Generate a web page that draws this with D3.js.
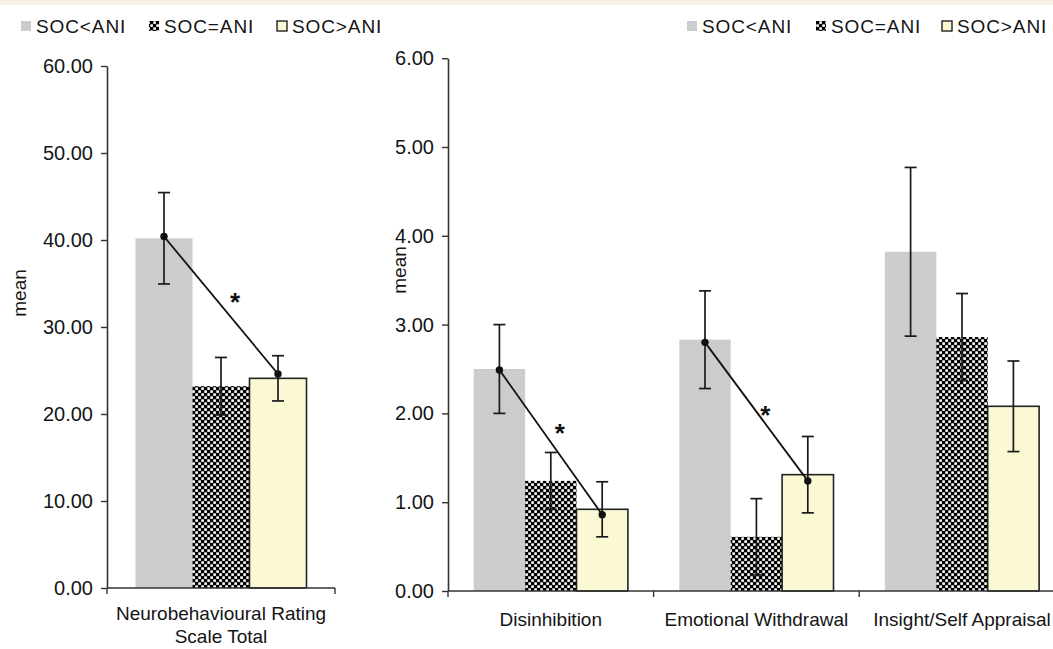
<!DOCTYPE html>
<html><head><meta charset="utf-8">
<script src="https://cdn.jsdelivr.net/npm/d3@7"></script>
<style>
html,body{margin:0;padding:0;background:#fff;}
svg{display:block;font-family:"Liberation Sans",Arial,sans-serif;}
</style></head>
<body>
<svg id="chart" width="1053" height="649"></svg>
<script>
// ---- data ----
const series = ["SOC<ANI", "SOC=ANI", "SOC>ANI"];
const leftCategories = ["Neurobehavioural Rating\nScale Total"];
const leftMeans = [[40.2, 23.2, 24.1]];
const leftErrors = [[5.25, 3.3, 2.6]];
const leftTicks = [0, 10, 20, 30, 40, 50, 60];
const leftSigLine = [{cat: 0, from: 40.4, to: 24.6, star: 33.4}];

const rightCategories = ["Disinhibition", "Emotional Withdrawal", "Insight/Self Appraisal"];
const rightMeans = [[2.50, 1.24, 0.92], [2.83, 0.61, 1.31], [3.82, 2.86, 2.08]];
const rightErrors = [[0.50, 0.32, 0.31], [0.55, 0.43, 0.43], [0.95, 0.49, 0.51]];
const rightTicks = [0, 1, 2, 3, 4, 5, 6];
const rightSigLines = [{cat: 0, from: 2.49, to: 0.86, star: 1.84}, {cat: 1, from: 2.80, to: 1.24, star: 2.04}];

// ---- styles ----
const fills = ["#cccccc", "url(#checker)", "#fbf8d4"];
const strokes = ["none", "none", "#222"];
const axisColor = "#333";
const textColor = "#141414";
const fontFam = "Liberation Sans, Arial, sans-serif";

const svg = d3.select("#chart");
svg.append("rect").attr("x", 0).attr("y", 0).attr("width", 1053).attr("height", 5).attr("fill", "#f5f1e3");

const defs = svg.append("defs");
const pat = defs.append("pattern").attr("id", "checker").attr("patternUnits", "userSpaceOnUse")
  .attr("width", 6).attr("height", 6);
pat.append("rect").attr("width", 6).attr("height", 6).attr("fill", "#000");
pat.append("rect").attr("x", 0.3).attr("y", 0.3).attr("width", 2.6).attr("height", 2.6).attr("fill", "#fff");
pat.append("rect").attr("x", 3.3).attr("y", 3.3).attr("width", 2.6).attr("height", 2.6).attr("fill", "#fff");

function drawPanel(opts) {
  const g = svg.append("g");
  const y = d3.scaleLinear().domain(opts.domain).range(opts.yRange);
  const x = d3.scaleBand().domain(d3.range(opts.categories.length)).range(opts.xRange).padding(0);
  const bw = x.bandwidth();
  const xs = d3.scaleBand().domain(d3.range(series.length)).range([bw * 0.125, bw * 0.875]).padding(0);

  // bars
  opts.means.forEach((row, ci) => {
    row.forEach((v, si) => {
      g.append("rect")
        .attr("x", x(ci) + xs(si))
        .attr("y", y(v))
        .attr("width", xs.bandwidth())
        .attr("height", y(0) - y(v))
        .attr("fill", fills[si])
        .attr("stroke", strokes[si])
        .attr("stroke-width", 1.6);
    });
  });
  // error bars
  opts.means.forEach((row, ci) => {
    row.forEach((v, si) => {
      const e = opts.errors[ci][si];
      const cx = x(ci) + xs(si) + xs.bandwidth() / 2;
      const eg = g.append("g").attr("stroke", "#1a1a1a").attr("stroke-width", 1.7);
      eg.append("line").attr("x1", cx).attr("x2", cx).attr("y1", y(v + e)).attr("y2", y(v - e));
      eg.append("line").attr("x1", cx - 6).attr("x2", cx + 6).attr("y1", y(v + e)).attr("y2", y(v + e));
      eg.append("line").attr("x1", cx - 6).attr("x2", cx + 6).attr("y1", y(v - e)).attr("y2", y(v - e));
    });
  });
  // significance lines
  opts.sig.forEach(s => {
    const x1 = x(s.cat) + xs(0) + xs.bandwidth() / 2;
    const x2 = x(s.cat) + xs(2) + xs.bandwidth() / 2;
    g.append("line").attr("x1", x1).attr("y1", y(s.from)).attr("x2", x2).attr("y2", y(s.to))
      .attr("stroke", "#111").attr("stroke-width", 1.8);
    g.append("circle").attr("cx", x1).attr("cy", y(s.from)).attr("r", 3.7).attr("fill", "#111");
    g.append("circle").attr("cx", x2).attr("cy", y(s.to)).attr("r", 3.7).attr("fill", "#111");
    const sx = x(s.cat) + xs(1) + xs.bandwidth() / 2 + opts.starDx;
    g.append("text").attr("x", sx).attr("y", y(s.star) + 14).attr("text-anchor", "middle")
      .attr("font-size", 26).attr("font-weight", "bold").attr("fill", "#111").text("*");
  });

  // y axis
  const yAxis = d3.axisLeft(y).tickValues(opts.ticks).tickFormat(d3.format(".2f")).tickSize(6).tickPadding(8).tickSizeOuter(0);
  const ya = g.append("g").attr("transform", `translate(${opts.xRange[0]},0)`).call(yAxis);
  ya.select(".domain").attr("stroke", axisColor).attr("stroke-width", 1.6);
  ya.selectAll(".tick line").attr("stroke", axisColor).attr("stroke-width", 1.4);
  ya.selectAll(".tick text").attr("font-size", 20).attr("fill", textColor).attr("font-family", fontFam);

  // x axis baseline with category boundary ticks
  const base = y(0);
  g.append("line").attr("x1", opts.xRange[0]).attr("x2", opts.xRange[1]).attr("y1", base).attr("y2", base)
    .attr("stroke", axisColor).attr("stroke-width", 1.6);
  d3.range(opts.categories.length + 1).forEach(i => {
    const tx = opts.xRange[0] + i * bw;
    g.append("line").attr("x1", tx).attr("x2", tx).attr("y1", base).attr("y2", base + 6)
      .attr("stroke", axisColor).attr("stroke-width", 1.4);
  });
  // category labels
  opts.categories.forEach((c, ci) => {
    const lines = c.split("\n");
    const t = g.append("text").attr("text-anchor", "middle").attr("font-size", 19).attr("fill", textColor);
    lines.forEach((ln, li) => {
      t.append("tspan").attr("x", x(ci) + bw / 2).attr("y", opts.labelY + li * 23).text(ln);
    });
  });
  // y label
  g.append("text").attr("transform", `translate(${opts.meanPos[0]},${opts.meanPos[1]}) rotate(-90)`)
    .attr("text-anchor", "middle").attr("dominant-baseline", "central")
    .attr("font-size", 19).attr("fill", textColor).text("mean");
}

drawPanel({
  categories: leftCategories, means: leftMeans, errors: leftErrors, ticks: leftTicks, sig: leftSigLine,
  domain: [0, 60], yRange: [588, 66], xRange: [107, 335], labelY: 620, meanPos: [19, 293], starDx: 14
});
drawPanel({
  categories: rightCategories, means: rightMeans, errors: rightErrors, ticks: rightTicks, sig: rightSigLines,
  domain: [0, 6], yRange: [591, 58.2], xRange: [448, 1064.8], labelY: 626, meanPos: [399, 270], starDx: 9
});

// legends
function drawLegend(xs) {
  const lg = svg.append("g");
  series.forEach((s, i) => {
    const tx = xs[i];
    lg.append("rect").attr("x", tx - 15).attr("y", 21).attr("width", 10).attr("height", 10)
      .attr("fill", fills[i]).attr("stroke", strokes[i]).attr("stroke-width", 1.4);
    lg.append("text").attr("x", tx).attr("y", 32.5).attr("font-size", 19).attr("letter-spacing", 0.9)
      .attr("fill", textColor).text(s);
  });
}
drawLegend([36, 164, 292]);
drawLegend([702, 831, 957]);
</script>
</body></html>
